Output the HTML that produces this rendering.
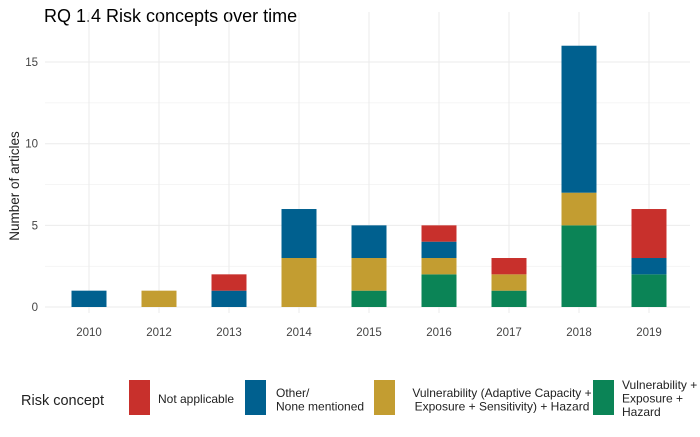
<!DOCTYPE html>
<html><head><meta charset="utf-8"><style>
body{margin:0;background:#fff}
text{font-family:"Liberation Sans",Arial,sans-serif}
</style></head><body>
<svg id="c" width="700" height="432" xmlns="http://www.w3.org/2000/svg">
<text x="44" y="22" font-size="18" fill="#000">RQ 1.4 Risk concepts over time</text>
<g id="grid"></g><g id="bars"></g><g id="axes"></g>
<text transform="translate(19,186) rotate(-90)" text-anchor="middle" font-size="13.5" fill="#222">Number of articles</text>
<g>
<text x="21" y="405" font-size="14.5" fill="#222">Risk concept</text>
<rect x="129" y="380" width="21" height="35" fill="#c8302c"/>
<text x="158" y="403" font-size="12" fill="#222">Not applicable</text>
<rect x="245" y="380" width="21" height="35" fill="#00608f"/>
<text x="276" y="397" font-size="12" fill="#222"><tspan x="276">Other/</tspan><tspan x="276" dy="13.5">None mentioned</tspan></text>
<rect x="374" y="380" width="21" height="35" fill="#c39d31"/>
<text font-size="12" fill="#222" text-anchor="middle"><tspan x="502" y="397">Vulnerability (Adaptive Capacity +</tspan><tspan x="502" dy="13.5">Exposure + Sensitivity) + Hazard</tspan></text>
<rect x="593" y="380" width="21" height="35" fill="#0b8456"/>
<text font-size="12" fill="#222"><tspan x="622" y="389">Vulnerability +</tspan><tspan x="622" dy="13.5">Exposure +</tspan><tspan x="622" dy="13.5">Hazard</tspan></text>
</g>
</svg>
<script>
const years=["2010","2012","2013","2014","2015","2016","2017","2018","2019"];
const green=[0,0,0,0,1,2,1,5,2];
const gold=[0,1,0,3,2,1,1,2,0];
const blue=[1,0,1,3,2,1,0,9,1];
const red=[0,0,1,0,0,1,1,0,3];
const yTicks=[0,5,10,15];
const NS="http://www.w3.org/2000/svg";
const x0=89,step=70,bw=35,yBase=307,ppu=16.33;
const xs=i=>x0+i*step;
const ys=v=>yBase-v*ppu;
function mk(t,a,p){const e=document.createElementNS(NS,t);for(const k in a)e.setAttribute(k,a[k]);p.appendChild(e);return e;}
const grid=document.getElementById('grid'),bars=document.getElementById('bars'),axes=document.getElementById('axes');
for(let v=0;v<=16;v+=2.5){const g=mk('line',{x1:45,x2:690,y1:ys(v),y2:ys(v),stroke:'#ebebeb','stroke-width':v%5==0?1:0.5},grid);

}
years.forEach((y,i)=>{const g=mk('line',{x1:xs(i),x2:xs(i),y1:12,y2:313,stroke:'#ebebeb','stroke-width':1},grid);


const t=mk('text',{x:xs(i),y:336,'font-size':11.5,fill:'#444','text-anchor':'middle'},axes);t.textContent=y;

});
yTicks.forEach(v=>{const t=mk('text',{x:38,y:ys(v)+4,'font-size':11.5,fill:'#444','text-anchor':'end'},axes);t.textContent=v;

});
const series=[[green,'#0b8456','green'],[gold,'#c39d31','gold'],[blue,'#00608f','blue'],[red,'#c8302c','red']];
years.forEach((y,i)=>{let acc=0;series.forEach(([arr,col,n])=>{const v=arr[i];if(v>0){const r=mk('rect',{x:xs(i)-bw/2,y:ys(acc+v),width:bw,height:v*ppu,fill:col},bars);

}acc+=v;});});
</script>
</body></html>
